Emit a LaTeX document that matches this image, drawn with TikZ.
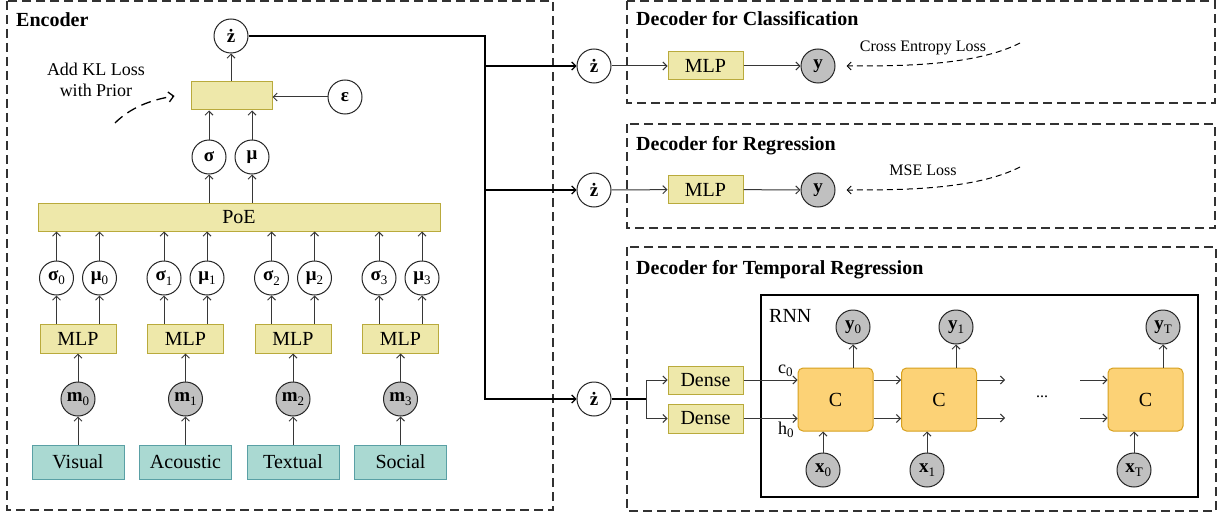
\documentclass[tikz,border=0pt]{standalone}
\usepackage{fontspec}
\setmainfont{Liberation Serif}
\usetikzlibrary{arrows.meta}
\definecolor{yfill}{RGB}{238,232,170}
\definecolor{ydraw}{RGB}{185,170,60}
\definecolor{tfill}{RGB}{170,217,210}
\definecolor{tdraw}{RGB}{90,160,165}
\definecolor{gfill}{RGB}{192,192,192}
\definecolor{cfill}{RGB}{252,210,118}
\definecolor{cdraw}{RGB}{215,160,30}
\definecolor{lcol}{RGB}{55,55,55}
\definecolor{dcol}{RGB}{50,50,50}
\newcommand{\sbx}[1]{\raisebox{-0.22em}{\fontsize{13}{13}\selectfont #1}}
\begin{document}
\begin{tikzpicture}[x=1pt,y=-1pt,
  every node/.style={font=\fontsize{20}{24}\selectfont},
  ttl/.style={font=\fontsize{20}{24}\selectfont\bfseries, inner sep=0pt},
  ybox/.style={draw=ydraw, fill=yfill, line width=1pt, minimum width=76pt, minimum height=29pt, inner sep=0pt},
  tbox/.style={draw=tdraw, fill=tfill, line width=1pt, minimum width=92pt, minimum height=34pt, inner sep=0pt},
  cbox/.style={draw=cdraw, fill=cfill, line width=1pt, rounded corners=5pt, minimum width=75pt, minimum height=63pt, inner sep=0pt},
  circ/.style={circle, draw=black!85, fill=white, line width=1pt, minimum size=34pt, inner sep=0pt, font=\fontsize{19}{22}\selectfont},
  gcirc/.style={circ, fill=gfill},
  arr/.style={draw=lcol, line width=1pt, -{Straight Barb[length=4pt,width=8pt]}},
  ln/.style={draw=black, line width=1.2pt},
  dbox/.style={draw=dcol, line width=1.5pt, dash pattern=on 9pt off 5pt},
  lossarr/.style={draw=black, line width=1pt, dash pattern=on 6pt off 4pt, -{Straight Barb[length=4pt,width=8pt]}},
  small/.style={font=\fontsize{16}{19}\selectfont, inner sep=0pt}
]
\fill[white] (0,0) rectangle (1222,516);
\useasboundingbox (0,0) rectangle (1222,516);

% ================= Encoder =================
\draw[dbox] (7,1) rectangle (553,510);
\node[ttl, anchor=base west] (enc) at (16,27) {Encoder};

\node[circ] (zt) at (231,36) {\textbf{ż}};
\node[ybox, minimum width=81pt, minimum height=28pt] (rep) at (231.5,96) {};
\node[circ] (eps) at (345,97) {\textbf{ε}};
\node[circ] (sig) at (209,157) {\textbf{σ}};
\node[circ] (mu) at (252,157) {\textbf{μ}};
\node[ybox, minimum width=402pt, minimum height=28pt] (poe) at (239,217) {PoE};
\node[align=center, font=\fontsize{18}{21}\selectfont, inner sep=0pt] (kl) at (96,80) {Add KL Loss\\with Prior};

\draw[arr] (rep.north -| zt) -- (zt);
\draw[arr] (eps) -- (rep.east |- eps);
\draw[arr] (sig) -- (sig |- rep.south);
\draw[arr] (mu) -- (mu |- rep.south);
\draw[arr] (poe.north -| sig) -- (sig);
\draw[arr] (poe.north -| mu) -- (mu);
\draw[draw=black, line width=1.3pt, dash pattern=on 10pt off 6pt, -{Straight Barb[length=5pt,width=10pt]}]
  (115,123) .. controls (130,108) and (150,100) .. ([xshift=-16pt]rep.west);

\foreach \i/\x/\name in {0/78/Visual,1/185.5/Acoustic,2/293/Textual,3/400.5/Social}{
  \node[tbox] (in\i) at (\x,462) {\name};
  \node[gcirc] (m\i) at (\x,399) {\textbf{m}\sbx{\i}};
  \node[ybox] (mlp\i) at (\x,338.5) {MLP};
  \node[circ] (s\i) at (\x-21.5,278) {\textbf{σ}\sbx{\i}};
  \node[circ] (u\i) at (\x+21.5,278) {\textbf{μ}\sbx{\i}};
  \draw[arr] (in\i) -- (m\i);
  \draw[arr] (m\i) -- (mlp\i);
  \draw[arr] (mlp\i.north -| s\i) -- (s\i);
  \draw[arr] (mlp\i.north -| u\i) -- (u\i);
  \draw[arr] (s\i) -- (s\i |- poe.south);
  \draw[arr] (u\i) -- (u\i |- poe.south);
}

% ================= Decoders =================
\draw[dbox] (627,1) rectangle (1215,103);
\node[ttl, anchor=base west] (dc) at (636,26) {Decoder for Classification};
\draw[dbox] (627,124) rectangle (1215,228);
\node[ttl, anchor=base west] (dr) at (636,150) {Decoder for Regression};
\draw[dbox] (627,247) rectangle (1216,511);
\node[ttl, anchor=base west] (dt) at (636,274) {Decoder for Temporal Regression};

\node[circ] (z1) at (594,66) {\textbf{ż}};
\node[ybox, minimum width=75pt, minimum height=28pt] (dm1) at (705.5,66) {MLP};
\node[gcirc] (y1) at (818,66) {\textbf{y}};
\node[circ] (z2) at (594,190) {\textbf{ż}};
\node[ybox, minimum width=75pt, minimum height=28pt] (dm2) at (705.5,189.5) {MLP};
\node[gcirc] (y2) at (818,190) {\textbf{y}};
\node[circ] (z3) at (594,399) {\textbf{ż}};

\coordinate (bus) at (485,0);
\draw[ln, -{Straight Barb[length=4pt,width=8pt]}] (zt.east) -| (bus |- z3) -- (z3);
\draw[ln, -{Straight Barb[length=4pt,width=8pt]}] (bus |- z1) -- (z1);
\draw[ln, -{Straight Barb[length=4pt,width=8pt]}] (bus |- z2) -- (z2);

\draw[arr] (z1) -- (dm1);
\draw[arr] (dm1) -- (y1);
\draw[arr] (z2) -- (dm2);
\draw[arr] (dm2) -- (y2);

\node[small, anchor=base] (ce) at (923,52) {Cross Entropy Loss};
\node[small, anchor=base] (mse) at (923,175) {MSE Loss};
\coordinate (l1s) at (1020,43);
\coordinate (l2s) at (1020,167);
\draw[lossarr] (l1s) .. controls (975,66) and (900,66) .. ([xshift=11pt]y1.east);
\draw[lossarr] (l2s) .. controls (975,190) and (900,190) .. ([xshift=11pt]y2.east);

% ================= Temporal =================
\node[ybox, minimum width=75pt, minimum height=28pt] (dn1) at (705.5,380) {Dense};
\node[ybox, minimum width=75pt, minimum height=29pt] (dn2) at (705.5,418.5) {Dense};
\coordinate (br) at (646,399);
\draw[ln] (z3) -- (br);
\draw[arr] (br) |- (dn1.west);
\draw[arr] (br) |- (dn2.west);

\draw[draw=black, line width=1.5pt] (761,295) rectangle (1198,497);
\node[anchor=base west, inner sep=0pt] (rnn) at (769,322) {RNN};

\node[cbox] (c0) at (835.5,399.5) {C};
\node[cbox] (c1) at (939,399.5) {C};
\node[cbox] (cT) at (1145.5,399.5) {C};
\node[gcirc] (y0) at (853,327) {\textbf{y}\sbx{0}};
\node[gcirc] (yy1) at (956,327) {\textbf{y}\sbx{1}};
\node[gcirc] (yT) at (1163,327) {\textbf{y}\sbx{T}};
\node[gcirc] (x0) at (823,470) {\textbf{x}\sbx{0}};
\node[gcirc] (x1) at (927,470) {\textbf{x}\sbx{1}};
\node[gcirc] (xT) at (1134,470) {\textbf{x}\sbx{T}};
\node[anchor=base west, inner sep=0pt, font=\fontsize{18}{21}\selectfont] (c0l) at (778,373) {c\sbx{0}};
\node[anchor=base west, inner sep=0pt, font=\fontsize{18}{21}\selectfont] (h0l) at (778,434) {h\sbx{0}};
\node[inner sep=0pt, font=\fontsize{16}{19}\selectfont] (dots) at (1042,397) {...};

\draw[arr] (dn1.east) -- (dn1.east -| c0.west);
\draw[arr] (dn2.east) -- (dn2.east -| c0.west);
\draw[arr] (c0.east |- dn1) -- (c1.west |- dn1);
\draw[arr] (c0.east |- dn2) -- (c1.west |- dn2);
\coordinate (o1) at (1005,380);
\coordinate (o2) at (1005,418);
\coordinate (i1) at (1080,380);
\coordinate (i2) at (1080,418);
\draw[arr] (c1.east |- o1) -- (o1);
\draw[arr] (c1.east |- o2) -- (o2);
\draw[arr] (i1) -- (cT.west |- i1);
\draw[arr] (i2) -- (cT.west |- i2);

\draw[arr] (c0.north -| y0) -- (y0);
\draw[arr] (c1.north -| yy1) -- (yy1);
\draw[arr] (cT.north -| yT) -- (yT);
\draw[arr] (x0) -- (x0 |- c0.south);
\draw[arr] (x1) -- (x1 |- c1.south);
\draw[arr] (xT) -- (xT |- cT.south);
\end{tikzpicture}
\end{document}
